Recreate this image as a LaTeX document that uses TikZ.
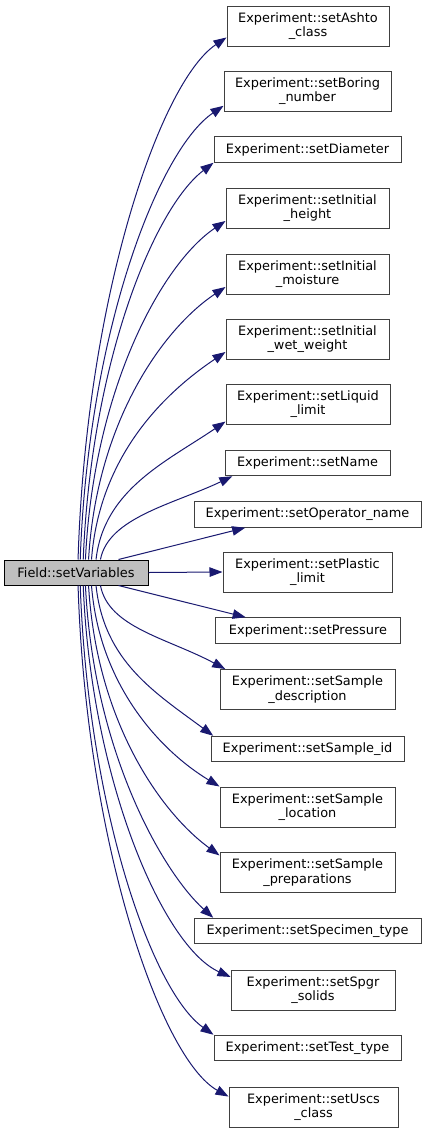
\documentclass[tikz,border=0pt]{standalone}
\usepackage{fontspec}
\setmainfont{DejaVu Sans}
\usetikzlibrary{arrows.meta}
\definecolor{edgeblue}{HTML}{191970}
\definecolor{boxgrey}{HTML}{404040}

\begin{document}
\begin{tikzpicture}[
                x=1pt, y=-1pt,
                font=\fontsize{12.9}{14.5}\selectfont,
                line width=1pt,
                >={Triangle[length=13pt,width=9.5pt]},
                % Stile per il nodo chiamante
                root/.style={
                    draw=black,
                    fill=black!25,
                    minimum width=144pt,
                    minimum height=25pt,
                    inner sep=0pt
                },
                % Stile per le funzioni chiamate (due righe / una riga)
                fn/.style={
                    draw=boxgrey,
                    fill=white,
                    align=center,
                    inner sep=0pt,
                    minimum width=#1,
                    minimum height=40pt
                },
                fnone/.style={fn=#1, minimum height=25.5pt},
                call/.style={->, draw=edgeblue}
            ]

                \useasboundingbox (0,0) rectangle (427,1133);

                % --- Nodo chiamante ---
                \node[root] (field) at (76,572.5) {Field::setVariables};

                % --- Funzioni chiamate ---
                \node[fn=162pt] (ashto) at (308,26) {Experiment::setAshto\\\_class};
                \node[fn=167pt] (boring) at (307.5,91) {Experiment::setBoring\\\_number};
                \node[fnone=187pt] (diameter) at (307.5,149.5) {Experiment::setDiameter};
                \node[fn=163pt] (iheight) at (307.5,208) {Experiment::setInitial\\\_height};
                \node[fn=163pt] (imoist) at (307.5,274) {Experiment::setInitial\\\_moisture};
                \node[fn=163pt] (iwet) at (307.5,339) {Experiment::setInitial\\\_wet\_weight};
                \node[fn=164pt] (liquid) at (308,404) {Experiment::setLiquid\\\_limit};
                \node[fnone=165pt] (name) at (307.5,463) {Experiment::setName};
                \node[fnone=227pt] (operator) at (307.5,514.5) {Experiment::setOperator\_name};
                \node[fn=169pt] (plastic) at (307.5,572) {Experiment::setPlastic\\\_limit};
                \node[fnone=185pt] (pressure) at (308,630.5) {Experiment::setPressure};
                \node[fn=175pt] (sdesc) at (307.5,689.5) {Experiment::setSample\\\_description};
                \node[fnone=193pt] (sid) at (307.5,749) {Experiment::setSample\_id};
                \node[fn=175pt] (sloc) at (307.5,807) {Experiment::setSample\\\_location};
                \node[fn=175pt] (sprep) at (307.5,872.5) {Experiment::setSample\\\_preparations};
                \node[fnone=227pt] (specimen) at (307.5,931) {Experiment::setSpecimen\_type};
                \node[fn=164pt] (spgr) at (313,990) {Experiment::setSpgr\\\_solids};
                \node[fnone=187pt] (testtype) at (307.5,1048) {Experiment::setTest\_type};
                \node[fn=169pt] (uscs) at (313.5,1107) {Experiment::setUscs\\\_class};

                % --- Chiamate verso l'alto ---
                \draw[call] (field.81) .. controls +(8,-261) and +(-67,45) .. (ashto.188);
                \draw[call] (field.72) .. controls +(8,-228) and +(-65,44) .. (boring.190);
                \draw[call] (field.61) .. controls +(8,-199) and +(-59,45) .. (diameter.south west);
                \draw[call] (field.54) .. controls +(8,-170) and +(-64,43) .. (iheight.189);
                \draw[call] (field.46) .. controls +(8,-137) and +(-63,42) .. (imoist.189);
                \draw[call] (field.40) .. controls +(8,-104) and +(-61,41) .. (iwet.189);
                \draw[call] (field.33) .. controls +(8,-70) and +(-59,40) .. (liquid.192);
                \draw[call] (field.28) .. controls +(8,-42) and +(-59,28) .. (name.190);
                \draw[call] (field.17) -- (operator.192);

                % --- Chiamata diretta ---
                \draw[call] (field.east) -- (plastic.west);

                % --- Chiamate verso il basso ---
                \draw[call] (field.343) -- (pressure.168);
                \draw[call] (field.332) .. controls +(8,42) and +(-58,-31) .. (sdesc.166);
                \draw[call] (field.327) .. controls +(8,76) and +(-58,-43) .. (sid.172);
                \draw[call] (field.320) .. controls +(8,101) and +(-58,-35) .. (sloc.north west);
                \draw[call] (field.314) .. controls +(8,136) and +(-59,-43) .. (sprep.169);
                \draw[call] (field.306) .. controls +(8,167) and +(-50,-45) .. (specimen.172);
                \draw[call] (field.299) .. controls +(8,196) and +(-67,-30) .. (spgr.171);
                \draw[call] (field.288) .. controls +(8,225) and +(-61,-43) .. (testtype.north west);
                \draw[call] (field.279) .. controls +(8,256) and +(-68,-38) .. (uscs.173);

            \end{tikzpicture}
\end{document}
